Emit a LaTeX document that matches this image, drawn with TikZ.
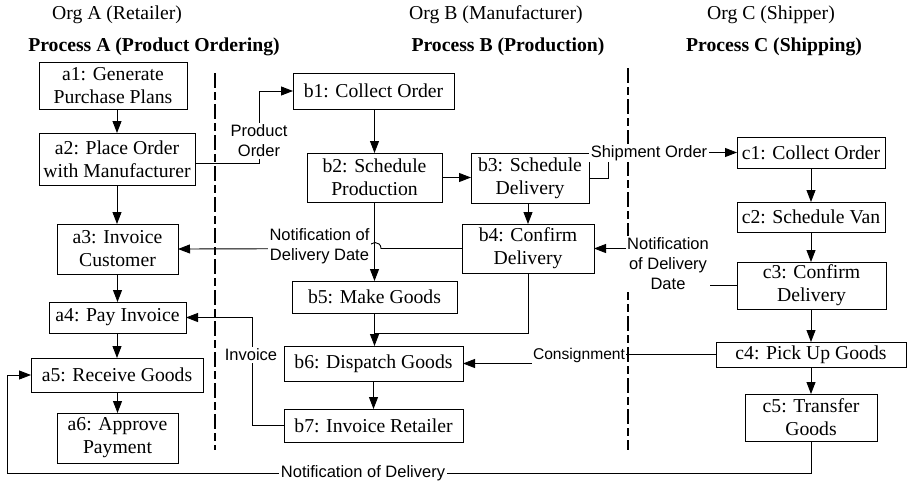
\documentclass[tikz,border=0pt]{standalone}
\usepackage{fontspec}
\setmainfont{Liberation Serif}
\newfontfamily\labfont{Liberation Sans}
\usetikzlibrary{arrows.meta}

\tikzset{
  proc/.style={draw, line width=1pt, inner sep=0pt, outer sep=0pt, align=center,
    font=\fontsize{19.7}{23}\selectfont},
  hdr/.style={font=\fontsize{19.7}{23}\selectfont, inner sep=0pt},
  hdrb/.style={font=\fontsize{19.7}{23}\selectfont\bfseries, inner sep=0pt},
  flow/.style={line width=0.9pt, -{Triangle[length=12pt,width=9pt]}},
  plain/.style={line width=0.9pt},
  msg/.style={fill=white, inner sep=1.5pt, align=center,
    font=\labfont\fontsize{16.5}{20}\selectfont},
  swim/.style={line width=1.7pt, dash pattern=on 15pt off 4pt on 8pt off 4pt},
}

\begin{document}
\begin{tikzpicture}[x=1pt, y=-1pt]
\useasboundingbox (0,0) rectangle (907,485);

% column headings
\node[hdr]  (orgA)  at (117,15)  {Org A (Retailer)};
\node[hdrb] (procA) at (154,47)  {Process A (Product Ordering)};
\node[hdr]  (orgB)  at (496,15)  {Org B (Manufacturer)};
\node[hdrb] (procB) at (508,47)  {Process B (Production)};
\node[hdr]  (orgC)  at (771,15)  {Org C (Shipper)};
\node[hdrb] (procC) at (774,47)  {Process C (Shipping)};

% swimlane separators
\coordinate (sAt) at (215,73);  \coordinate (sAb) at (215,450);
\coordinate (sBt) at (628,68);  \coordinate (sBb) at (628,450);
\draw[swim] (sAt) -- (sAb);
\draw[swim] (sBt) -- (sBb);

% process A
\node[proc, minimum width=148, minimum height=47] (a1) at (113,85.5)  {a1: Generate\\Purchase Plans};
\node[proc, minimum width=156, minimum height=52] (a2) at (117,159)   {a2: Place Order\\with Manufacturer};
\node[proc, minimum width=121, minimum height=50] (a3) at (117.5,249) {a3: Invoice\\Customer};
\node[proc, minimum width=137, minimum height=31] (a4) at (117.5,317.5) {a4: Pay Invoice};
\node[proc, minimum width=172, minimum height=34] (a5) at (117,375)   {a5: Receive Goods};
\node[proc, minimum width=121, minimum height=50] (a6) at (117.5,438) {a6: Approve\\Payment};

% process B
\node[proc, minimum width=161, minimum height=36] (b1) at (373.5,91)   {b1: Collect Order};
\node[proc, minimum width=135, minimum height=49] (b2) at (374.5,177.5) {b2: Schedule\\Production};
\node[proc, minimum width=118, minimum height=50] (b3) at (530,178)    {b3: Schedule\\Delivery};
\node[proc, minimum width=132, minimum height=49] (b4) at (528,248.5)  {b4: Confirm\\Delivery};
\node[proc, minimum width=165, minimum height=32] (b5) at (374.5,297)  {b5: Make Goods};
\node[proc, minimum width=179, minimum height=35] (b6) at (373.5,363.5) {b6: Dispatch Goods};
\node[proc, minimum width=179, minimum height=33] (b7) at (373.5,425.5) {b7: Invoice Retailer};

% process C
\node[proc, minimum width=148, minimum height=31] (c1) at (811,152.5)  {c1: Collect Order};
\node[proc, minimum width=148, minimum height=30] (c2) at (811,217)    {c2: Schedule Van};
\node[proc, minimum width=149, minimum height=47] (c3) at (811.5,285.5) {c3: Confirm\\Delivery};
\node[proc, minimum width=190, minimum height=25] (c4) at (811,354.5)  {c4: Pick Up Goods};
\node[proc, minimum width=132, minimum height=47] (c5) at (811,417.5)  {c5: Transfer\\Goods};

% flow inside process A
\draw[flow] (a2.north |- a1.south) -- (a2.north);
\draw[flow] (a2.south) -- (a2.south |- a3.north);
\draw[flow] (a3.south -| a4.north) -- (a4.north);
\draw[flow] (a4.south -| a5.north) -- (a5.north);
\draw[flow] (a5.south -| a6.north) -- (a6.north);

% flow inside process B
\draw[flow] (b1.south -| b2.north) -- (b2.north);
\draw[flow] (b2.east) -- (b2.east -| b3.west);
\draw[flow] (b4.north |- b3.south) -- (b4.north);
\draw[flow] (b2.south -| b5.north) -- (b5.north);
\draw[flow] (b5.south) -- (b5.south |- b6.north);
\coordinate (bj) at (528,333);
\draw[plain] (b4.south -| bj) -- (bj) -- (bj -| b5.south);
\draw[flow] (b6.south) -- (b6.south |- b7.north);

% flow inside process C
\draw[flow] (c1.south) -- (c2.north);
\draw[flow] (c2.south) -- (c2.south |- c3.north);
\draw[flow] (c3.south -| c4.north) -- (c4.north);
\draw[flow] (c4.south) -- (c4.south |- c5.north);

% product order: a2 -> b1
\coordinate (po) at (259,163);
\draw[flow] (a2.east |- po) -- (po) -- (po |- b1.west) -- (b1.west);
\node[msg] (poL) at (259,141) {Product\\Order};

% shipment order: b3 -> c1
\coordinate (so) at (608,178);
\draw[flow] (b3.east |- so) -- (so) -- (so |- c1.west) -- (c1.west);
\node[msg] (soL) at (649,153) {Shipment Order};

% delivery date: c3 -> b4
\coordinate (dd) at (668,285.5);
\draw[flow] (c3.west) -- (dd) -- (dd |- b4.east) -- (b4.east);
\node[msg] (ddL) at (668,264) {Notification\\of Delivery\\Date};

% delivery date: b4 -> a3, hopping over b2 -> b5
\coordinate (hopR) at (381,248.5);
\coordinate (hopL) at (369,248.5);
\draw[flow] (b4.west) -- (hopR) .. controls (381,240.5) and (369,240.5) .. (hopL) -- (a3.east);
\node[msg] (daL) at (319.5,246.5) {Notification of\\Delivery Date};

% consignment: c4 -> b6
\coordinate (cs) at (579,354.5);
\draw[flow] (c4.west) -- (cs) -- (cs |- b6.east) -- (b6.east);
\node[msg, font=\labfont\fontsize{15.6}{19}\selectfont] (csL) at (579,355) {Consignment};

% invoice: b7 -> a4
\coordinate (iv) at (252,425.5);
\draw[flow] (b7.west) -- (iv) -- (iv |- a4.east) -- (a4.east);
\node[msg] (ivL) at (251,355) {Invoice};

% delivery notice: c5 -> a5
\coordinate (ndR) at (811,473);
\coordinate (ndL) at (7,473);
\draw[flow] (c5.south) -- (ndR) -- (ndL) -- (ndL |- a5.west) -- (a5.west);
\node[msg] (ndLbl) at (363,473) {Notification of Delivery};

\end{tikzpicture}
\end{document}
